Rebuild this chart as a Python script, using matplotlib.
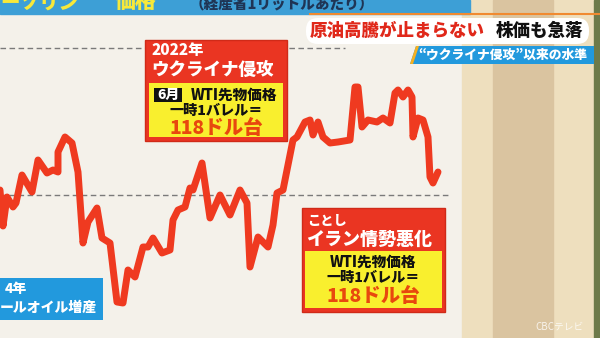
import numpy as np
import matplotlib.pyplot as plt
from matplotlib.patches import Rectangle, FancyBboxPatch, Polygon

plt.rcParams['font.family'] = ['Noto Sans CJK JP', 'DejaVu Sans']

# gasoline price trace (x = position along the board, y = height on the board, down is lower price)
x_pos = [0, 3, 7, 13, 16, 22, 32, 38, 47, 53, 58, 58, 65, 72, 78, 83, 88, 97, 102, 110,
         117, 123, 128, 135, 143, 148, 153, 162, 170, 173, 178, 185, 190, 193, 202, 210,
         220, 230, 240, 247, 250, 258, 268, 273, 277, 283, 287, 293, 297, 305, 310, 313,
         318, 323, 330, 338, 350, 355, 358, 362, 368, 377, 383, 390, 395, 398, 403, 408,
         412, 413, 418, 423, 428, 430, 433, 438]
y_pos = [190, 226, 197, 207, 203, 175, 192, 160, 173, 170, 172, 152, 137, 143, 172, 243,
         222, 208, 238, 243, 302, 303, 270, 277, 247, 247, 238, 253, 250, 220, 210, 207,
         188, 190, 163, 218, 195, 215, 190, 203, 267, 237, 247, 225, 193, 190, 170, 140,
         137, 122, 120, 135, 122, 137, 143, 142, 140, 87, 87, 127, 120, 122, 118, 123,
         93, 90, 97, 90, 97, 137, 118, 120, 137, 177, 183, 172]

ref_levels = [48, 195]   # dashed guide lines
ref_ends = [345, 448]

RED = '#ef3a20'
BOX_RED = '#ea3522'
YELLOW = '#f9ef2e'
ORANGE = '#e8480e'
BLUE = '#2299dd'
W = 'heavy'

fig = plt.figure(figsize=(6, 3.38), dpi=100)
ax = fig.add_axes([0, 0, 1, 1])
ax.set_xlim(0, 600)
ax.set_ylim(338, 0)
ax.axis('off')

# board and studio background
ax.add_patch(Rectangle((0, 0), 600, 338, color='#f4f1ea', zorder=0))
ax.add_patch(Rectangle((462, 0), 138, 338, color='#eedfbe', zorder=1))
ax.add_patch(Rectangle((493, 0), 60, 338, color='#dac4a0', zorder=1))
ax.add_patch(Rectangle((594, 0), 6, 338, color='#6d7a4a', zorder=1))

# top strip
ax.add_patch(Rectangle((0, 0), 470, 14, color='#3d9fd6', zorder=2))
ax.plot([310, 600], [14, 14], color='#f08a30', lw=1.5, zorder=2)
ax.text(0, 3, 'ーソリン', color='#f7e83a', fontsize=14, fontweight=W, va='center', zorder=3)
ax.text(115, 2, '価格', color='#f7e83a', fontsize=15, fontweight=W, va='center', zorder=3)
ax.text(190, 5, '（経産省1リットルあたり）', color='#1f3555', fontsize=10.5, fontweight=W,
        va='center', zorder=3)

# dashed guides
for lv, end in zip(ref_levels, ref_ends):
    ax.plot([0, end], [lv, lv], color='#7a7a7a', lw=1.0, ls=(0, (4, 2.5)), zorder=3)

# price line
ax.plot(x_pos, y_pos, color=RED, lw=5.0, solid_joinstyle='round', solid_capstyle='round', zorder=4)

# headline
ax.add_patch(FancyBboxPatch((306, 18), 283, 26, boxstyle='round,pad=0,rounding_size=12',
                            fc='white', ec='none', zorder=6))
ax.text(310, 31, '原油高騰が止まらない', color='#e0281a', fontsize=12.6, fontweight=W,
        va='center', zorder=7)
ax.text(496, 31, '株価も急落', color='#111111', fontsize=12.6, fontweight=W, va='center', zorder=7)

ax.add_patch(Polygon([(416, 46), (594, 46), (594, 64), (410, 64)], closed=True,
                     fc=BLUE, ec='none', zorder=6))
ax.add_patch(Polygon([(410, 64), (416, 46), (419, 46), (413, 64)], closed=True,
                     fc='#f5b020', ec='none', zorder=7))
ax.text(503, 55, '“ウクライナ侵攻”以来の水準', color='white', fontsize=9.2, fontweight=W,
        ha='center', va='center', zorder=7)

# 2022 box
ax.add_patch(Rectangle((145, 40), 142, 101, fc=BOX_RED, ec='#d02a18', lw=1, zorder=6))
ax.add_patch(Rectangle((149, 83), 134, 54, fc=YELLOW, ec='none', zorder=7))
ax.text(152, 51, '2022年', color='white', fontsize=11, fontweight=W, va='center', zorder=8)
ax.text(151, 70, 'ウクライナ侵攻', color='white', fontsize=12.6, fontweight=W, va='center', zorder=8)
ax.add_patch(Rectangle((154, 88), 28, 14, fc='#111111', ec='none', zorder=8))
ax.text(168, 95, '6月', color='white', fontsize=10, fontweight=W, ha='center', va='center', zorder=9)
ax.text(234, 95, 'WTI先物価格', color='#111111', fontsize=10.5, fontweight=W, ha='center',
        va='center', zorder=8)
ax.text(216, 111, '一時1バレル＝', color='#111111', fontsize=10.2, fontweight=W, ha='center',
        va='center', zorder=8)
ax.text(216, 128, '118ドル台', color=ORANGE, fontsize=14, fontweight=W, ha='center',
        va='center', zorder=8)

# this year box
ax.add_patch(Rectangle((302, 208), 143, 104, fc=BOX_RED, ec='#d02a18', lw=1, zorder=6))
ax.add_patch(Rectangle((305, 251), 137, 57, fc=YELLOW, ec='none', zorder=7))
ax.text(307, 221, 'ことし', color='white', fontsize=9.5, fontweight=W, va='center', zorder=8)
ax.text(306, 239, 'イラン情勢悪化', color='white', fontsize=13, fontweight=W, va='center', zorder=8)
ax.text(373, 262, 'WTI先物価格', color='#111111', fontsize=10.5, fontweight=W, ha='center',
        va='center', zorder=8)
ax.text(373, 278, '一時1バレル＝', color='#111111', fontsize=10.2, fontweight=W, ha='center',
        va='center', zorder=8)
ax.text(373, 296, '118ドル台', color=ORANGE, fontsize=14, fontweight=W, ha='center',
        va='center', zorder=8)

# shale box
ax.add_patch(Rectangle((0, 278), 103, 42, fc=BLUE, ec='none', zorder=6))
ax.text(5, 289, '4年', color='white', fontsize=10, fontweight=W, va='center', zorder=7)
ax.text(0, 308, 'ールオイル増産', color='white', fontsize=10, fontweight=W, va='center', zorder=7)

# broadcaster mark
ax.text(560, 327, 'CBCテレビ', color='white', fontsize=7, style='italic', alpha=0.8,
        ha='center', va='center', zorder=7)

fig.savefig('out.png', dpi=100)
